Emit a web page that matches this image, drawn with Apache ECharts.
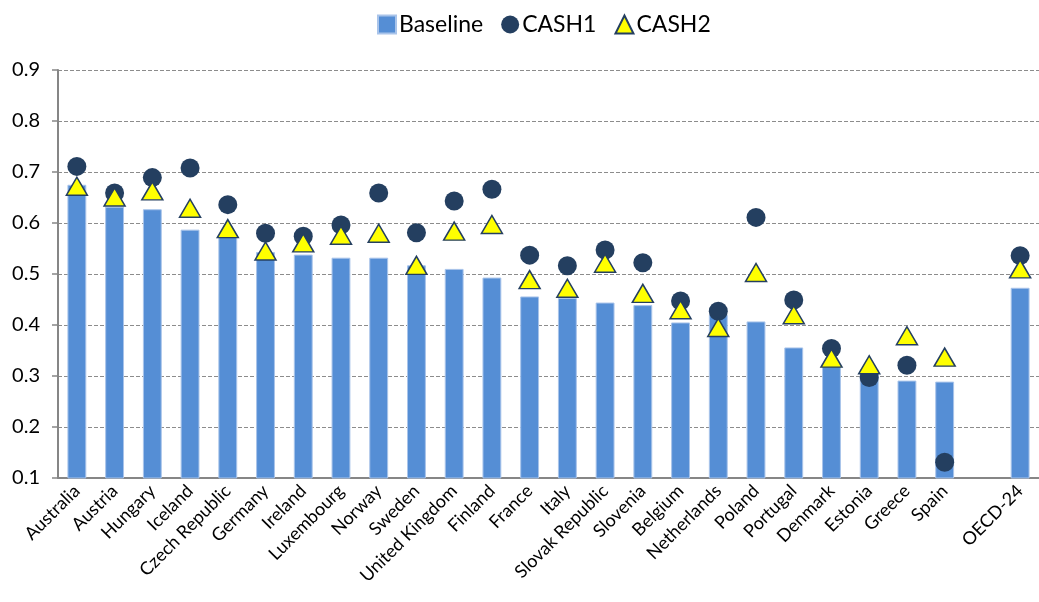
<!DOCTYPE html>
<html>
<head>
<meta charset="utf-8">
<script src="https://cdn.jsdelivr.net/npm/echarts@6/dist/echarts.min.js"></script>
<style>
  html, body { margin: 0; padding: 0; background: #fff; overflow: hidden; }
  #chart { width: 1039px; height: 602px; }
</style>
</head>
<body>
<div id="chart"></div>
<script>
const countries = [
  "Australia", "Austria", "Hungary", "Iceland", "Czech Republic", "Germany",
  "Ireland", "Luxembourg", "Norway", "Sweden", "United Kingdom", "Finland",
  "France", "Italy", "Slovak Republic", "Slovenia", "Belgium", "Netherlands",
  "Poland", "Portugal", "Denmark", "Estonia", "Greece", "Spain", "", "OECD-24",
]
const baseline = [
  0.675, 0.632, 0.627, 0.587, 0.573, 0.543, 0.538, 0.532, 0.532, 0.517, 0.510, 0.493,
  0.456, 0.453, 0.444, 0.439, 0.405, 0.42, 0.407, 0.356, 0.32, 0.313, 0.291, 0.289, null, 0.473,
]
const cash1 = [
  0.711, 0.659, 0.689, 0.708, 0.636, 0.580, 0.574, 0.596, 0.659, 0.581, 0.643, 0.666,
  0.537, 0.516, 0.547, 0.522, 0.447, 0.427, 0.611, 0.449, 0.354, 0.297, 0.321, 0.131, null, 0.536,
]
const cash2 = [
  0.672, 0.651, 0.663, 0.629, 0.589, 0.545, 0.561, 0.576, 0.580, 0.517, 0.584, 0.597,
  0.489, 0.472, 0.521, 0.462, 0.430, 0.395, 0.503, 0.420, 0.335, 0.322, 0.379, 0.337, null, 0.510,
]
const yTicks = { min: 0.1, max: 0.9, step: 0.1 }

const font = "Lato, 'Open Sans', sans-serif"
const navy = "#243f60"

var myChart = echarts.init(document.getElementById("chart"))
var option = {
  animation: false,
  legend: {
    top: 8,
    left: 372,
    itemWidth: 18,
    itemHeight: 18,
    itemGap: 18,
    textStyle: { fontFamily: font, fontSize: 23, color: "#000", padding: [0, 0, 0, -2] },
    data: [
      { name: "Baseline", icon: "rect" },
      { name: "CASH1", icon: "circle" },
      { name: "CASH2", icon: "triangle" },
    ],
  },
  grid: { left: 58, top: 70, right: -15, bottom: 124 },
  xAxis: {
    type: "category",
    data: countries,
    axisLine: { lineStyle: { color: "#868686", width: 2 } },
    axisTick: { length: 6, lineStyle: { color: "#868686", width: 2 } },
    axisLabel: {
      interval: 0,
      rotate: 45,
      fontFamily: font,
      fontSize: 18,
      color: "#000",
      margin: 10,
    },
  },
  yAxis: {
    type: "value",
    min: yTicks.min,
    max: yTicks.max,
    interval: yTicks.step,
    axisLine: { show: true, lineStyle: { color: "#868686", width: 2 } },
    axisTick: { show: true, length: 6, lineStyle: { color: "#868686", width: 1.5 } },
    axisLabel: {
      fontFamily: font,
      fontSize: 20,
      color: "#000",
      margin: 18,
      formatter: (v) => v.toFixed(1),
    },
    splitLine: { lineStyle: { color: "#8c8c8c", type: [4, 2], width: 1 } },
  },
  series: [
    {
      name: "Baseline",
      type: "bar",
      data: baseline,
      barWidth: "50%",
      itemStyle: { color: "#558ed5", borderColor: "#a9c4ea", borderWidth: 1 },
    },
    {
      name: "CASH1",
      type: "scatter",
      data: cash1,
      symbol: "circle",
      symbolSize: 19,
      itemStyle: { color: navy, opacity: 1 },
      z: 3,
    },
    {
      name: "CASH2",
      type: "scatter",
      data: cash2,
      symbol: "triangle",
      symbolSize: [21, 18],
      itemStyle: { color: "#ffff00", borderColor: navy, borderWidth: 1.5, opacity: 1 },
      z: 4,
    },
  ],
}
myChart.setOption(option)
</script>
</body>
</html>
